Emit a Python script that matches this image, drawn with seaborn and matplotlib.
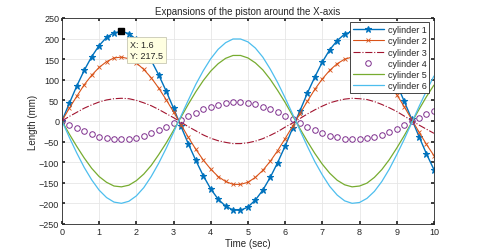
import pandas as pd
import matplotlib.pyplot as plt
import seaborn as sns

# Time samples (sec)
time = [round(i * 0.2, 1) for i in range(51)]

# Length of each cylinder (mm)
cyl1 = [0, 43, 85, 123, 156, 183, 203, 214, 217.5, 212, 198, 176, 147, 112, 73, 31, -13,
        -56, -96, -133, -165, -190, -207, -216, -217, -209, -192, -168, -137, -101, -61,
        -18, 25, 68, 107, 143, 173, 195, 211, 217, 215, 205, 186, 160, 127, 90, 48, 5,
        -38, -80, -118]
cyl2 = [0, 31, 60, 88, 111, 130, 144, 153, 155, 151, 141, 125, 105, 80, 52, 22, -9, -40,
        -69, -95, -117, -135, -147, -154, -154, -149, -137, -120, -98, -72, -43, -13, 18,
        48, 77, 102, 123, 139, 150, 155, 153, 146, 132, 114, 91, 64, 35, 4, -27, -57, -84]
cyl3 = [0, 11, 21, 31, 39, 46, 51, 54, 55, 54, 50, 44, 37, 28, 18, 8, -3, -14, -24, -34,
        -42, -48, -52, -55, -55, -53, -49, -43, -35, -26, -15, -5, 6, 17, 27, 36, 44, 49,
        53, 55, 54, 52, 47, 40, 32, 23, 12, 1, -10, -20, -30]
cyl4 = [0, -9, -18, -25, -32, -38, -42, -44, -45, -44, -41, -36, -30, -23, -15, -6, 3, 11,
        20, 28, 34, 39, 43, 45, 45, 43, 40, 35, 28, 21, 13, 4, -5, -14, -22, -30, -36, -40,
        -44, -45, -45, -42, -38, -33, -26, -19, -10, -1, 8, 16, 24]
cyl5 = [0, -32, -62, -90, -115, -135, -149, -158, -160, -156, -145, -129, -108, -82, -54,
        -23, 9, 41, 71, 98, 121, 139, 152, 159, 159, 153, 141, 124, 101, 74, 45, 13, -19,
        -50, -79, -105, -127, -144, -155, -160, -158, -151, -137, -118, -94, -66, -36, -4,
        28, 59, 87]
cyl6 = [0, -40, -78, -113, -143, -168, -186, -197, -200, -195, -182, -162, -135, -103, -67,
        -28, 12, 51, 89, 122, 151, 174, 190, 199, 199, 192, 177, 155, 126, 93, 56, 17, -23,
        -62, -99, -131, -159, -180, -194, -200, -198, -188, -171, -147, -117, -82, -45, -5,
        35, 73, 109]

tip_x, tip_y = 1.6, 217.5

data = pd.DataFrame({"t": time, "c1": cyl1, "c2": cyl2, "c3": cyl3,
                     "c4": cyl4, "c5": cyl5, "c6": cyl6})

sns.set_theme(style="whitegrid")
plt.rcParams["font.family"] = ["Liberation Sans", "DejaVu Sans"]

fig, ax = plt.subplots(figsize=(4.8, 2.53), dpi=100)
fig.subplots_adjust(left=0.129, right=0.904, bottom=0.111, top=0.925)

sns.lineplot(data=data, x="t", y="c1", ax=ax, color="#0072BD", lw=1.0, marker="*",
             markersize=4.5, markeredgewidth=0.8, markeredgecolor="#0072BD",
             label="cylinder 1")
sns.lineplot(data=data, x="t", y="c2", ax=ax, color="#D95319", lw=0.8, marker="x",
             markersize=3, markeredgewidth=0.6, markeredgecolor="#D95319",
             label="cylinder 2")
sns.lineplot(data=data, x="t", y="c3", ax=ax, color="#A2142F", lw=0.8, linestyle="-.",
             label="cylinder 3")
sns.lineplot(data=data, x="t", y="c4", ax=ax, color="#7E2F8E", linestyle="none", marker="o",
             markersize=4, markerfacecolor="none", markeredgecolor="#7E2F8E",
             markeredgewidth=0.7, label="cylinder 4")
sns.lineplot(data=data, x="t", y="c5", ax=ax, color="#77AC30", lw=0.9, label="cylinder 5")
sns.lineplot(data=data, x="t", y="c6", ax=ax, color="#4DBEEE", lw=0.9, label="cylinder 6")

# data tip
ax.plot([tip_x], [tip_y], marker="s", color="black", markersize=4, zorder=5)
ax.annotate(f"X: {tip_x}\nY: {tip_y}", xy=(tip_x, tip_y), xytext=(6, -6),
            textcoords="offset points", ha="left", va="top", fontsize=6.5,
            linespacing=1.3,
            bbox=dict(boxstyle="square,pad=0.35", fc="#FFFFE1", ec="#C8C8B4", lw=0.6),
            zorder=6)

ax.set_xlim(0, 10)
ax.set_ylim(-250, 250)
ax.set_xticks(range(0, 11))
ax.set_yticks(range(-250, 251, 50))
ax.set_title("Expansions of the piston around the X-axis", fontsize=7, pad=3)
ax.set_xlabel("Time (sec)", fontsize=7, labelpad=2)
ax.set_ylabel("Length (mm)", fontsize=7, labelpad=1)
ax.tick_params(labelsize=6.5, colors="#262626", direction="in", length=2.5, pad=2,
               left=True, bottom=True, top=True, right=True)
ax.grid(True, color="#E6E6E6", lw=0.6)
for s in ax.spines.values():
    s.set_color("#262626")
    s.set_linewidth(0.6)

leg = ax.legend(loc="upper right", fontsize=6.5, frameon=True, fancybox=False,
                edgecolor="#262626", framealpha=1, borderpad=0.3, labelspacing=0.25,
                handlelength=3.5, handletextpad=0.4, borderaxespad=0.5)
leg.get_frame().set_linewidth(0.6)

fig.savefig("out.png", dpi=100)
